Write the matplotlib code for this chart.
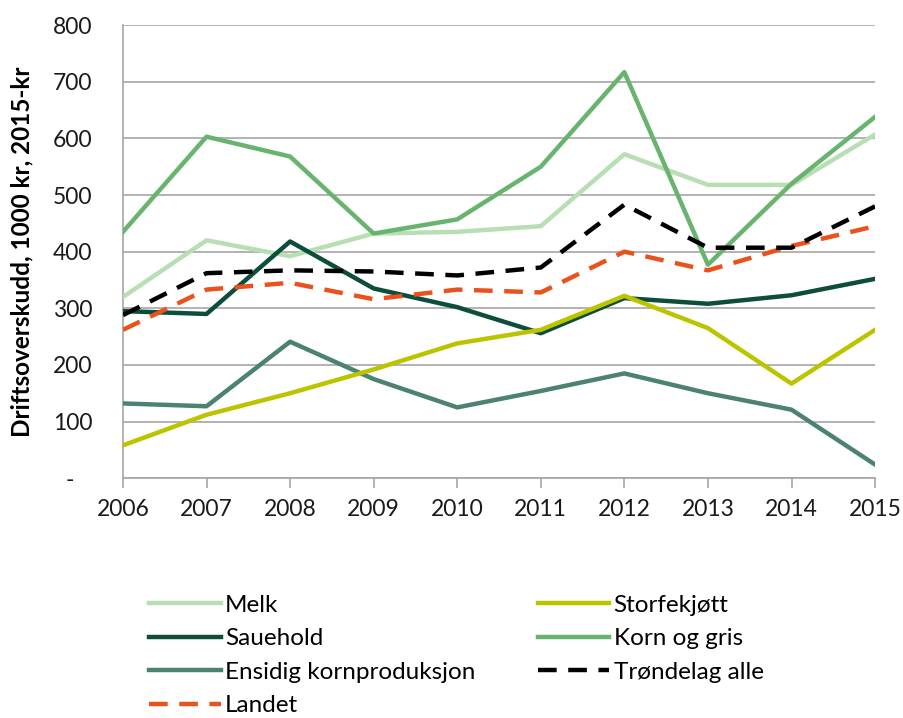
import matplotlib.pyplot as plt
from matplotlib.ticker import FuncFormatter

years = [2006, 2007, 2008, 2009, 2010, 2011, 2012, 2013, 2014, 2015]

melk = [320, 420, 392, 432, 435, 445, 572, 518, 518, 607]
storfe = [58, 112, 150, 192, 238, 262, 322, 265, 167, 262]
sauehold = [295, 290, 418, 335, 302, 256, 318, 308, 323, 352]
korn_gris = [435, 603, 568, 432, 457, 550, 717, 377, 520, 638]
ensidig = [132, 127, 241, 175, 125, 154, 185, 150, 121, 24]
trondelag = [288, 362, 367, 365, 358, 372, 483, 407, 407, 480]
landet = [262, 333, 345, 316, 333, 328, 400, 367, 410, 445]

plt.rcParams['font.family'] = ['Lato', 'DejaVu Sans']

fig = plt.figure(figsize=(9.04, 7.18), dpi=100)
ax = fig.add_axes([0.136, 0.334, 0.832, 0.631])

lw = 3.2
dash = (0, (4.2, 2.6))
ax.plot(years, melk, color='#b8deb4', lw=lw, label='Melk', zorder=3)
ax.plot(years, sauehold, color='#0c4d3b', lw=lw, label='Sauehold', zorder=3)
ax.plot(years, ensidig, color='#4b8272', lw=lw, label='Ensidig kornproduksjon', zorder=3)
ax.plot(years, landet, color='#e9521c', lw=lw, ls=dash, label='Landet', zorder=4)
ax.plot(years, storfe, color='#bcc400', lw=lw, label='Storfekjøtt', zorder=3)
ax.plot(years, korn_gris, color='#68b46e', lw=lw, label='Korn og gris', zorder=3)
ax.plot(years, trondelag, color='black', lw=lw, ls=dash, label='Trøndelag alle', zorder=4)

ax.set_xlim(2006, 2015)
ax.set_ylim(0, 800)
ax.set_yticks(range(0, 801, 100))
ax.yaxis.set_major_formatter(FuncFormatter(lambda v, p: '-   ' if v == 0 else f'{int(v)}'))
ax.set_xticks(years)
ax.grid(axis='y', color='#a6a6a6', lw=1.2, zorder=0)

for s in ['top', 'right']:
    ax.spines[s].set_visible(False)
for s in ['left', 'bottom']:
    ax.spines[s].set_color('#a6a6a6')
    ax.spines[s].set_linewidth(1.2)

ax.tick_params(axis='y', length=0, pad=22, labelsize=16.5, colors='#1a1a1a')
ax.tick_params(axis='x', length=7, width=1.2, color='#a6a6a6', pad=8,
               labelsize=16.5, labelcolor='#1a1a1a')

ax.set_ylabel('Driftsoverskudd, 1000 kr, 2015-kr', fontsize=17.5,
              fontweight='bold', labelpad=14)

leg = fig.legend(loc='upper left', bbox_to_anchor=(0.165, 0.172), ncol=2,
                 frameon=False, fontsize=17.5, handlelength=2.95,
                 handletextpad=0.18, columnspacing=2.55, labelspacing=0.52,
                 borderaxespad=0, borderpad=0)

fig.savefig('out.png', dpi=100)
